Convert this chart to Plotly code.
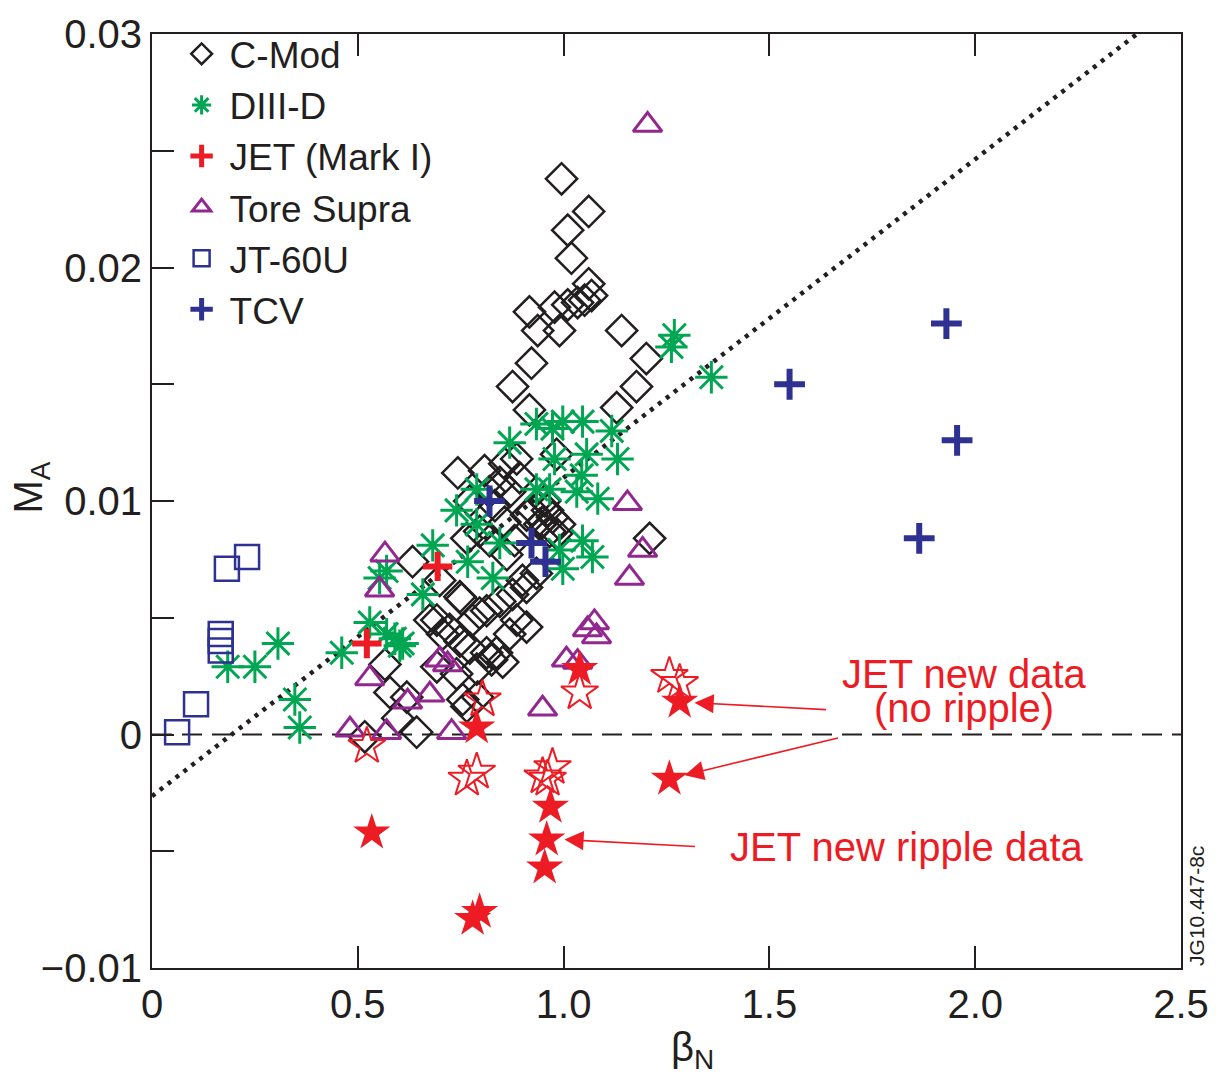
import plotly.graph_objects as go

# ---------------- data ----------------
cmod_x = [0.995, 1.061, 1.010, 1.019, 1.061, 1.068, 1.051, 1.010, 0.978, 1.034,
          0.917, 0.937, 0.990, 1.141, 0.922, 1.201, 1.177, 0.876, 0.917, 1.129,
          0.743, 0.886, 0.983, 0.820, 0.845, 0.869, 0.893, 0.910, 0.925, 0.942,
          0.949, 0.966, 0.983, 1.209, 0.765, 0.796, 0.633, 0.699, 0.752, 0.675,
          0.706, 0.748, 0.779, 0.813, 0.845, 0.876, 0.910, 0.910, 0.869, 0.852,
          0.813, 0.772, 0.789, 0.740, 0.755, 0.692, 0.643, 0.619, 0.566, 0.578,
          0.597, 0.517, 0.765, 0.791, 0.825, 0.900, 0.862, 0.820, 0.961, 0.973,
          0.990, 0.857, 0.833, 0.881, 0.796, 0.723, 0.886, 0.837, 0.692, 0.748,
          0.934, 0.954, 0.772, 0.808, 0.857]
cmod_y = [0.0238, 0.0224, 0.0216, 0.0204, 0.0193, 0.0188, 0.0186, 0.0184, 0.0183, 0.0185,
          0.0181, 0.0173, 0.0173, 0.0173, 0.0159, 0.0161, 0.0149, 0.0149, 0.0139, 0.0140,
          0.0112, 0.0118, 0.0120, 0.0104, 0.0108, 0.0104, 0.0110, 0.0094, 0.0096, 0.0090,
          0.0091, 0.0087, 0.0086, 0.0084, 0.0084, 0.0087, 0.0074, 0.0066, 0.0058, 0.0049,
          0.0043, 0.0040, 0.0049, 0.0053, 0.0057, 0.0060, 0.0063, 0.0046, 0.0043, 0.0031,
          0.0035, 0.0037, 0.0028, 0.0026, 0.0015, 0.0029, 0.0001, 0.0016, 0.0030, 0.0018,
          0.0007, -0.0001, 0.0012, 0.0016, 0.0032, 0.0066, 0.0077, 0.0083, 0.0096, 0.0093,
          0.0090, 0.0091, 0.0098, 0.0083, 0.0052, 0.0045, 0.0049, 0.0035, 0.0049, 0.0059,
          0.0069, 0.0100, 0.0100, 0.0113, 0.0116]

diiid_x = [0.184, 0.250, 0.306, 0.347, 0.359, 0.461, 0.529, 0.553, 0.570, 0.570,
           0.609, 0.590, 0.602, 0.658, 0.682, 0.740, 0.789, 0.789, 0.767, 0.828,
           0.845, 0.869, 0.934, 0.973, 0.998, 1.046, 1.117, 1.056, 0.978, 1.131,
           1.044, 0.934, 0.966, 1.083, 1.032, 1.046, 1.070, 0.990, 0.998, 1.269,
           1.262, 1.359]
diiid_y = [0.0029, 0.0029, 0.0039, 0.0015, 0.0003, 0.0035, 0.0048, 0.0067, 0.0070, 0.0043,
           0.0039, 0.0041, 0.0038, 0.0060, 0.0081, 0.0096, 0.0105, 0.0090, 0.0074, 0.0067,
           0.0082, 0.0125, 0.0133, 0.0131, 0.0134, 0.0134, 0.0130, 0.0120, 0.0118, 0.0118,
           0.0111, 0.0105, 0.0105, 0.0101, 0.0104, 0.0083, 0.0076, 0.0079, 0.0071, 0.0171,
           0.0166, 0.0153]

jet1_x = [0.522, 0.694]
jet1_y = [0.0039, 0.0072]

ts_x = [1.204, 0.566, 0.553, 0.529, 0.481, 0.570, 0.621, 0.675, 0.699, 0.718,
        0.728, 0.949, 1.155, 1.192, 1.160, 1.075, 1.058, 1.080, 1.007, 1.034]
ts_y = [0.0261, 0.0077, 0.0062, 0.0024, 0.0002, 0.0001, 0.0014, 0.0017, 0.0032, 0.0030,
        0.0001, 0.0011, 0.0099, 0.0079, 0.0067, 0.0048, 0.0045, 0.0042, 0.0032, 0.0031]

jt60_x = [0.061, 0.107, 0.167, 0.167, 0.167, 0.182, 0.231]
jt60_y = [0.0001, 0.0013, 0.0043, 0.0040, 0.0036, 0.0071, 0.0076]

tcv_x = [0.820, 0.922, 0.956, 1.549, 1.930, 1.956, 1.864]
tcv_y = [0.0100, 0.0082, 0.0074, 0.0150, 0.0176, 0.0126, 0.0084]

jet_ripple_x = [0.789, 0.534, 0.796, 0.779, 0.968, 0.959, 0.954, 1.257, 1.282, 1.039]
jet_ripple_y = [0.0003, -0.0042, -0.0076, -0.0079, -0.0031, -0.0045, -0.0057, -0.0019, 0.0014, 0.0028]

jet_open_x = [0.522, 0.803, 0.765, 0.789, 0.949, 0.973, 0.961, 1.039, 1.257, 1.282]
jet_open_y = [-0.0005, 0.0015, -0.0019, -0.0016, -0.0018, -0.0014, -0.0019, 0.0018, 0.0025, 0.0022]

fit_x = [0.0, 2.393]
fit_slope = 0.01364
fit_intercept = -0.00264

x_ticks = [0, 0.5, 1.0, 1.5, 2.0, 2.5]
x_tick_text = ["0", "0.5", "1.0", "1.5", "2.0", "2.5"]
y_ticks = [-0.01, -0.005, 0, 0.005, 0.01, 0.015, 0.02, 0.025, 0.03]
y_tick_text = ["\u22120.01", "", "0", "", "0.01", "", "0.02", "", "0.03"]

# ---------------- style ----------------
BLACK = "#231F20"
GREEN = "#00A651"
RED = "#ED1C24"
PURPLE = "#92278F"
NAVY = "#2E3192"
FONT = "Liberation Sans, Arial, Helvetica, sans-serif"

fig = go.Figure()

# reference lines
fig.add_trace(go.Scatter(
    x=[0, 2.5], y=[0, 0], mode="lines", showlegend=False, hoverinfo="skip",
    line=dict(color=BLACK, width=2, dash="20px,10px")))
fit_y = [fit_intercept + fit_slope * v for v in fit_x]
fig.add_trace(go.Scatter(
    x=fit_x, y=fit_y, mode="lines", showlegend=False, hoverinfo="skip",
    line=dict(color=BLACK, width=4.5, dash="4px,6px")))

fig.add_trace(go.Scatter(
    x=cmod_x, y=cmod_y, mode="markers", name="C-Mod",
    marker=dict(symbol="diamond-open", size=24, color=BLACK, line=dict(color=BLACK, width=2.5))))
fig.add_trace(go.Scatter(
    x=diiid_x, y=diiid_y, mode="markers", name="DIII-D",
    marker=dict(symbol="asterisk-open", size=27, color=GREEN, line=dict(color=GREEN, width=3))))
fig.add_trace(go.Scatter(
    x=jet1_x, y=jet1_y, mode="markers", name="JET (Mark I)",
    marker=dict(symbol="cross-thin-open", size=21, color=RED, line=dict(color=RED, width=6))))
fig.add_trace(go.Scatter(
    x=ts_x, y=ts_y, mode="markers", name="Tore Supra",
    marker=dict(symbol="triangle-up-open", size=25, color=PURPLE, line=dict(color=PURPLE, width=3))))
fig.add_trace(go.Scatter(
    x=jt60_x, y=jt60_y, mode="markers", name="JT-60U",
    marker=dict(symbol="square-open", size=24, color=NAVY, line=dict(color=NAVY, width=2.5))))
fig.add_trace(go.Scatter(
    x=tcv_x, y=tcv_y, mode="markers", name="TCV",
    marker=dict(symbol="cross-thin-open", size=22, color=NAVY, line=dict(color=NAVY, width=6))))
fig.add_trace(go.Scatter(
    x=jet_open_x, y=jet_open_y, mode="markers", name="JET new data", showlegend=False,
    marker=dict(symbol="star-open", size=28, color=RED, line=dict(color=RED, width=2))))
fig.add_trace(go.Scatter(
    x=jet_ripple_x, y=jet_ripple_y, mode="markers", name="JET new ripple data", showlegend=False,
    marker=dict(symbol="star", size=28, color=RED, line=dict(color=RED, width=0))))

annotations = [
    dict(x=1.973, y=0.00258, xref="x", yref="y", text="JET new data", showarrow=False,
         font=dict(family=FONT, size=40, color=RED), xanchor="center", yanchor="middle"),
    dict(x=1.973, y=0.00112, xref="x", yref="y", text="(no ripple)", showarrow=False,
         font=dict(family=FONT, size=40, color=RED), xanchor="center", yanchor="middle"),
    dict(x=1.835, y=-0.0048, xref="x", yref="y", text="JET new ripple data", showarrow=False,
         font=dict(family=FONT, size=40, color=RED), xanchor="center", yanchor="middle"),
]
arrows = [
    (1.318, 0.00136, 1.641, 0.00106),
    (1.294, -0.00174, 1.670, -0.00013),
    (1.002, -0.0045, 1.323, -0.0048),
]
for hx, hy, tx, ty in arrows:
    annotations.append(dict(
        x=hx, y=hy, ax=tx, ay=ty, xref="x", yref="y", axref="x", ayref="y",
        text="", showarrow=True, arrowhead=2, arrowsize=2.4, arrowwidth=1.6,
        arrowcolor=RED, standoff=0, startstandoff=0))

annotations += [
    dict(x=0.525, y=-0.088, xref="paper", yref="paper", text="\u03b2<sub>N</sub>",
         showarrow=False, font=dict(family=FONT, size=40, color=BLACK),
         xanchor="center", yanchor="middle"),
    dict(x=-0.118, y=0.514, xref="paper", yref="paper", text="M<sub>A</sub>",
         showarrow=False, textangle=-90, font=dict(family=FONT, size=40, color=BLACK),
         xanchor="center", yanchor="middle"),
    dict(x=1.0145, y=0.0, xref="paper", yref="paper", text="JG10.447-8c",
         showarrow=False, textangle=-90,
         font=dict(family="Liberation Sans Narrow, Liberation Sans, Arial", size=21, color=BLACK),
         xanchor="center", yanchor="bottom"),
]

fig.update_layout(
    width=1221, height=1075,
    margin=dict(l=152, r=39, t=27, b=107),
    paper_bgcolor="white", plot_bgcolor="white",
    font=dict(family=FONT, size=40, color=BLACK),
    showlegend=True,
    legend=dict(x=0.021, y=1.0115, xanchor="left", yanchor="top",
                bgcolor="rgba(0,0,0,0)", font=dict(family=FONT, size=37, color=BLACK),
                tracegroupgap=0, itemwidth=46),
    annotations=annotations,
    xaxis=dict(range=[0, 2.5], tickvals=x_ticks, ticktext=x_tick_text,
               ticks="inside", ticklen=22, tickwidth=2, tickcolor=BLACK,
               showline=True, linewidth=2, linecolor=BLACK, mirror="ticks",
               showgrid=False, zeroline=False,
               tickfont=dict(family=FONT, size=40, color=BLACK)),
    yaxis=dict(range=[-0.01, 0.03], tickvals=y_ticks, ticktext=y_tick_text,
               ticks="inside", ticklen=22, tickwidth=2, tickcolor=BLACK,
               showline=True, linewidth=2, linecolor=BLACK, mirror=True,
               showgrid=False, zeroline=False,
               tickfont=dict(family=FONT, size=40, color=BLACK)),
)

fig.write_html("out.html")
